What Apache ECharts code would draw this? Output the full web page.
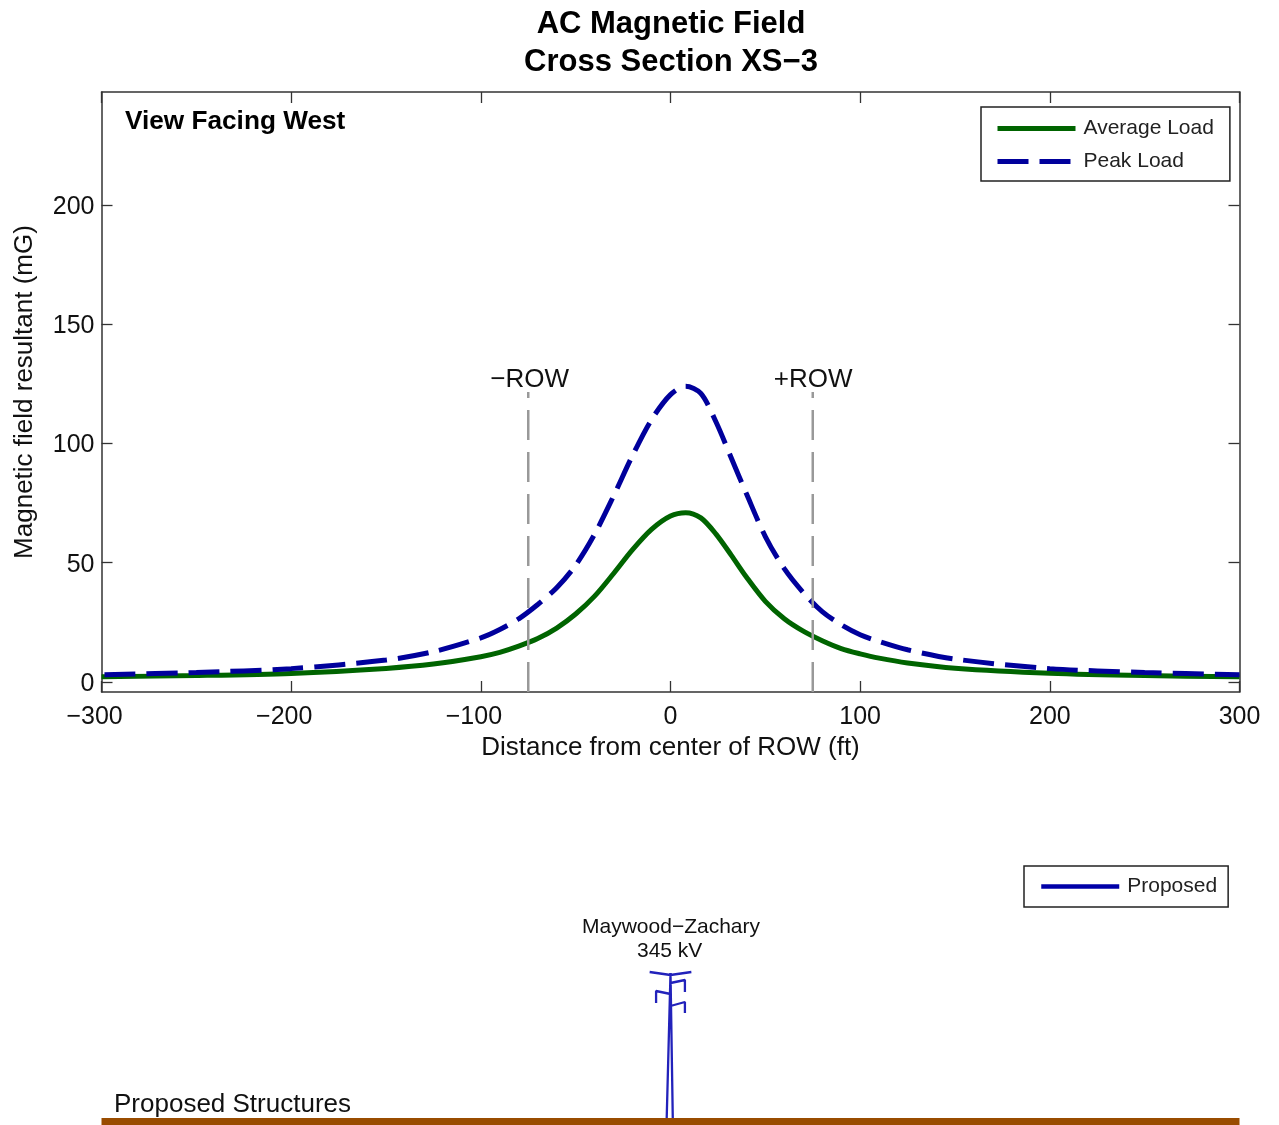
<!DOCTYPE html>
<html><head><meta charset="utf-8">
<style>html,body{margin:0;padding:0;background:#fff}#c{width:1279px;height:1125px}</style>
<script src="https://cdn.jsdelivr.net/npm/echarts@6/dist/echarts.min.js"></script>
</head><body><div id="c"></div>
<script>
const averageLoad = [[-300,2.2],[-250,2.7],[-200,3.6],[-150,5.7],[-125,7.5],[-100,10.6],[-90,12.4],[-80,15],[-70,18.2],[-60,22.6],[-50,28.5],[-40,36],[-30,45.5],[-20,55.5],[-10,64],[0,69.6],[8,71],[16,68.8],[24,62],[32,53.2],[40,44],[50,33.8],[60,26.5],[70,21.3],[80,17.3],[90,14],[100,11.8],[110,10],[125,8],[150,5.8],[200,3.7],[250,2.7],[300,2.2]];
const peakLoad = [[-300,3],[-250,4],[-200,5.6],[-150,9.2],[-125,12.7],[-100,18.5],[-90,22],[-80,26.5],[-70,32.5],[-60,39.5],[-50,49],[-40,62],[-30,78],[-20,95],[-10,110],[0,120.5],[8,124],[16,121],[24,109],[32,94],[40,79],[50,61],[60,47.5],[70,37.5],[80,29.5],[90,24],[100,19.8],[110,17],[125,13.5],[150,9.6],[200,5.6],[250,4],[300,3]];
const rowMinus = [[-75,-4.2],[-75,121.6]];
const rowPlus = [[75,-4.2],[75,121.6]];
const proposedTower = [[-11,146],[0,143],[11,146],null,[0,145],[-2,0],null,[0,145],[1.2,0],null,[0,135],[7.6,138],[7.6,126],null,[0,124],[-7.6,127],[-7.6,115],null,[0,112],[7.6,116],[7.6,105]];
const ground = [[-300,-3.5],[300,-3.5]];
const xTicks = [-300,-200,-100,0,100,200,300];
const yTicks = [0,50,100,150,200];
const fontFamily = '"Liberation Sans", Arial, sans-serif';
const axisColor = '#333';
const xFmt = v => v < 0 ? '\u2212' + Math.abs(v) + '\u00a0\u00a0' : String(v);
const commonAxis = {axisLine:{show:true,onZero:false,lineStyle:{color:axisColor,width:1.5}},splitLine:{show:false}};
const xAxisBase = {type:'value',min:-300,max:300,...commonAxis,
  axisTick:{inside:true,length:11,customValues:xTicks,lineStyle:{color:axisColor,width:1.3}}};
const yAxisBase = {type:'value',min:-4.2,max:247.4,...commonAxis,
  axisTick:{inside:true,length:11,customValues:yTicks,lineStyle:{color:axisColor,width:1.3}}};
const labelStyle = {fontFamily,fontSize:25,color:'#111'};
const nameStyle = {fontFamily,fontSize:26,color:'#111'};
const legendText = {fontFamily,fontSize:21,color:'#222'};
const chart = echarts.init(document.getElementById('c'),null,{renderer:'canvas'});
chart.setOption({
  animation:false,
  backgroundColor:'#fff',
  textStyle:{fontFamily},
  grid:[
    {left:101.5,top:92,width:1138,height:600},
    {left:101.5,top:858,width:1138,height:267}
  ],
  xAxis:[
    {...xAxisBase,gridIndex:0,position:'bottom',
      name:'Distance from center of ROW (ft)',nameLocation:'middle',nameGap:42,nameTextStyle:nameStyle,
      axisLabel:{...labelStyle,margin:13,customValues:xTicks,formatter:xFmt,hideOverlap:false,showMinLabel:true,showMaxLabel:true}},
    {...xAxisBase,gridIndex:0,position:'top',axisLabel:{show:false}},
    {type:'value',gridIndex:1,min:-300,max:300,show:false}
  ],
  yAxis:[
    {...yAxisBase,gridIndex:0,position:'left',
      name:'Magnetic field resultant (mG)',nameLocation:'middle',nameGap:64,nameTextStyle:nameStyle,
      nameMoveOverlap:false,
      axisLabel:{...labelStyle,margin:7,customValues:yTicks,formatter:v=>`{a|${v}}`,rich:{a:{...labelStyle,padding:[4,0,0,0]}}}},
    {...yAxisBase,gridIndex:0,position:'right',axisLabel:{show:false}},
    {type:'value',gridIndex:1,min:-7,max:260,show:false}
  ],
  legend:[
    {data:['Average Load','Peak Load'],orient:'vertical',selectedMode:false,
      left:981,top:107,padding:[11,16,9,14],itemGap:12,itemWidth:78,itemHeight:24,
      borderColor:'#222',borderWidth:1.5,backgroundColor:'#fff',
      itemStyle:{opacity:0},
      lineStyle:{width:5,dashOffset:0},
      textStyle:{...legendText,padding:[0,0,0,3]}},
    {data:['Proposed'],orient:'vertical',selectedMode:false,
      left:1024,top:866,padding:[10,11,10,15],itemWidth:78,itemHeight:24,
      borderColor:'#222',borderWidth:1.5,backgroundColor:'#fff',
      itemStyle:{opacity:0},
      lineStyle:{color:'#0000a8',width:4.5},
      textStyle:{...legendText,padding:[0,0,0,3]}}
  ],
  title:[
    {text:'AC Magnetic Field\nCross Section XS\u22123',left:666,top:1,textAlign:'center',
      textStyle:{fontFamily,fontSize:31,fontWeight:'bold',color:'#000',lineHeight:37.5}}
  ],
  graphic:[
    {type:'text',left:125,top:109,style:{text:'View Facing West',font:'bold 26.2px "Liberation Sans"',fill:'#000'}},
    {type:'text',left:114,top:1092,style:{text:'Proposed Structures',font:'26px "Liberation Sans"',fill:'#111'}},
    {type:'text',left:582,top:917,style:{text:'Maywood\u2212Zachary',font:'21px "Liberation Sans"',fill:'#111'}},
    {type:'text',left:637,top:941,style:{text:'345 kV',font:'21px "Liberation Sans"',fill:'#111'}}
  ],
  series:[
    {name:'Average Load',type:'line',xAxisIndex:0,yAxisIndex:0,data:averageLoad,smooth:0.3,showSymbol:false,symbol:'none',
      itemStyle:{color:'#006400'},lineStyle:{color:'#006400',width:5}},
    {name:'Peak Load',type:'line',xAxisIndex:0,yAxisIndex:0,data:peakLoad,smooth:0.3,showSymbol:false,symbol:'none',
      itemStyle:{color:'#00009c'},lineStyle:{color:'#00009c',width:5,type:[31,11],dashOffset:39,cap:'butt'}},
    {name:'-ROW',type:'line',xAxisIndex:0,yAxisIndex:0,data:rowMinus,showSymbol:false,symbol:'none',
      lineStyle:{color:'#999',width:2.5,type:[30,12]},
      endLabel:{show:true,formatter:'\u2212ROW',offset:[-46,-12],fontFamily,fontSize:26,color:'#111'}},
    {name:'+ROW',type:'line',xAxisIndex:0,yAxisIndex:0,data:rowPlus,showSymbol:false,symbol:'none',
      lineStyle:{color:'#999',width:2.5,type:[30,12]},
      endLabel:{show:true,formatter:'+ROW',offset:[-47,-12],fontFamily,fontSize:26,color:'#111'}},
    {name:'Proposed',type:'line',xAxisIndex:2,yAxisIndex:2,data:proposedTower,connectNulls:false,showSymbol:false,symbol:'none',
      itemStyle:{color:'#2222bb'},lineStyle:{color:'#2222bb',width:2.3}},
    {name:'Ground',type:'line',xAxisIndex:2,yAxisIndex:2,data:ground,showSymbol:false,symbol:'none',clip:false,
      lineStyle:{color:'#994c00',width:7,cap:'butt'}}
  ]
});
</script></body></html>
